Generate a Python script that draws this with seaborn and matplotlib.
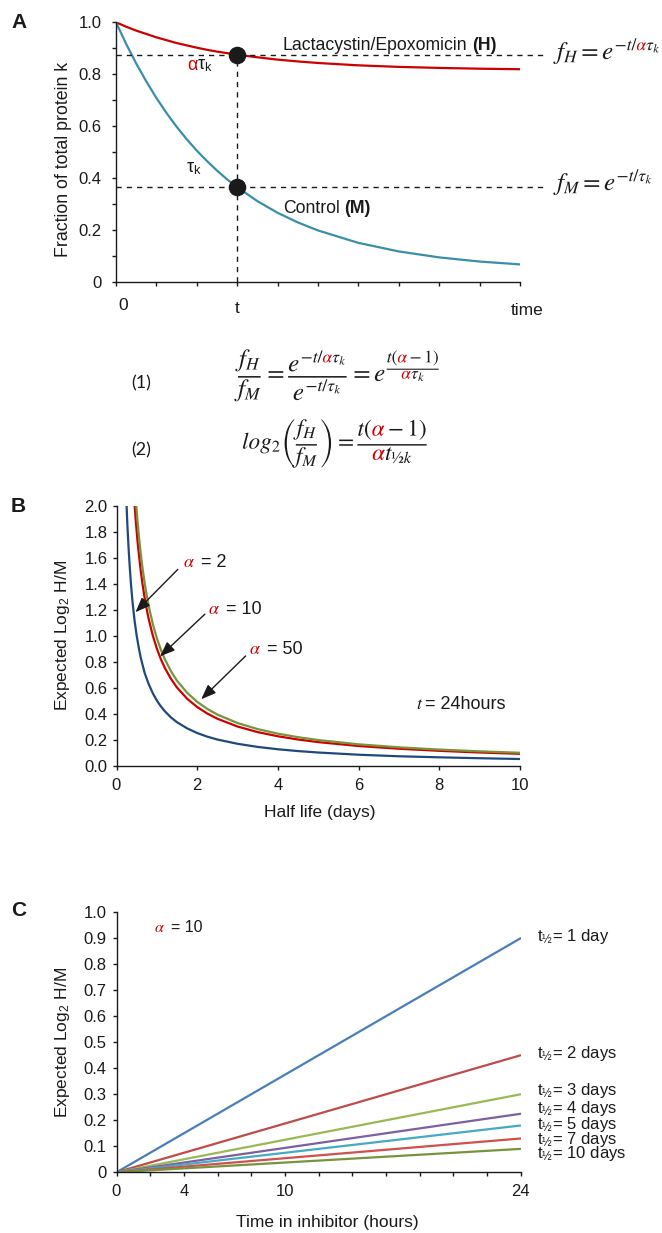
import numpy as np
import matplotlib
matplotlib.use("Agg")
import matplotlib.pyplot as plt
import seaborn as sns
from matplotlib.textpath import text_to_path
from matplotlib.font_manager import FontProperties
from matplotlib.path import Path
from matplotlib.patches import PathPatch
from matplotlib.transforms import Affine2D

# panel A - fraction of protein k left, control (M) vs inhibitor (H); t marked at 3
time_a = [0, 0.25, 0.5, 0.75, 1, 1.25, 1.5, 1.75, 2, 2.25, 2.5, 2.75, 3,
          3.5, 4, 4.5, 5, 6, 7, 8, 9, 10]
frac_h = [1.0, 0.983, 0.968, 0.955, 0.942, 0.931, 0.920, 0.911, 0.902, 0.894, 0.887, 0.881, 0.875,
          0.865, 0.856, 0.849, 0.843, 0.834, 0.828, 0.824, 0.821, 0.819]
frac_m = [1.0, 0.917, 0.841, 0.772, 0.708, 0.650, 0.597, 0.549, 0.505, 0.465, 0.428, 0.394, 0.364,
          0.310, 0.265, 0.228, 0.197, 0.149, 0.116, 0.093, 0.077, 0.066]
t_mark = 3
fh_t = 0.875
fm_t = 0.365

# panel B - expected log2 H/M against half life (days), t = 24 h
hl_a2 = [0.25, 0.27, 0.3, 0.33, 0.36, 0.4, 0.45, 0.5, 0.55, 0.6, 0.7, 0.8, 0.9, 1.0, 1.1, 1.2,
         1.35, 1.5, 1.75, 2, 2.25, 2.5, 3, 3.5, 4, 4.5, 5, 6, 7, 8, 9, 10]
lr_a2 = [2.0, 1.85, 1.67, 1.52, 1.39, 1.25, 1.11, 1.0, 0.91, 0.83, 0.71, 0.625, 0.556, 0.5, 0.455, 0.417,
         0.37, 0.333, 0.286, 0.25, 0.222, 0.2, 0.167, 0.143, 0.125, 0.111, 0.1, 0.083, 0.071, 0.063, 0.056, 0.05]
hl_a10 = [0.45, 0.48, 0.52, 0.56, 0.6, 0.65, 0.7, 0.75, 0.8, 0.9, 1.0, 1.1, 1.2, 1.35, 1.5, 1.75,
          2, 2.25, 2.5, 3, 3.5, 4, 4.5, 5, 6, 7, 8, 9, 10]
lr_a10 = [2.0, 1.875, 1.73, 1.61, 1.5, 1.385, 1.286, 1.2, 1.125, 1.0, 0.9, 0.818, 0.75, 0.667, 0.6, 0.514,
          0.45, 0.4, 0.36, 0.3, 0.257, 0.225, 0.2, 0.18, 0.15, 0.129, 0.113, 0.1, 0.09]
hl_a50 = [0.49, 0.52, 0.56, 0.6, 0.65, 0.7, 0.75, 0.8, 0.9, 1.0, 1.1, 1.2, 1.35, 1.5, 1.75,
          2, 2.25, 2.5, 3, 3.5, 4, 4.5, 5, 6, 7, 8, 9, 10]
lr_a50 = [2.0, 1.885, 1.75, 1.633, 1.508, 1.4, 1.307, 1.225, 1.089, 0.98, 0.891, 0.817, 0.726, 0.653, 0.56,
          0.49, 0.436, 0.392, 0.327, 0.28, 0.245, 0.218, 0.196, 0.163, 0.14, 0.1225, 0.109, 0.098]

# panel C - expected log2 H/M against time in inhibitor, alpha = 10
hours = [0, 24]
half_lives = ["1 day", "2 days", "3 days", "4 days", "5 days", "7 days", "10 days"]
lr_0h = 0
lr_24h = [0.9, 0.45, 0.3, 0.225, 0.18, 0.13, 0.09]

W, H = 662, 1233
RED = "#cc0000"
TEAL = "#3a8eaa"
B_COLORS = ["#1f497d", RED, "#77933c"]
C_COLORS = ["#4a7ebb", "#be4b48", "#98b954", "#7d60a0", "#46aac5", "#d0504d", "#77933c"]

sns.set_theme(style="ticks")
plt.rcParams["font.family"] = ["Liberation Sans", "DejaVu Sans"]
plt.rcParams["mathtext.fontset"] = "stix"
plt.rcParams["text.color"] = "k"
plt.rcParams["axes.linewidth"] = 1.0

fig = plt.figure(figsize=(W / 100, H / 100), dpi=100)
rend = fig.canvas.get_renderer()


def box(left, top, right, bottom):
    return [left / W, 1 - bottom / H, (right - left) / W, (bottom - top) / H]


def put(px, py, s, **kw):
    kw.setdefault("fontsize", 12.5)
    return fig.text(px / W, 1 - py / H, s, **kw)


def run(px, py, parts, size=12.5):
    # pieces of text on one baseline, each one starting where the last ended
    x = px
    for s, col, gap, extra in parts:
        t = put(x + gap, py, s, color=col, fontsize=size, va="baseline", ha="left", **extra)
        x = t.get_window_extent(renderer=rend).x1


def to_px(ax, x, y):
    X, Y = ax.transData.transform((x, y))
    return X, H - Y


def formula(s, px, py, size, anchor="baseline"):
    # mathtext drawn as glyph paths so that alpha can be red
    prop = FontProperties(size=size, math_fontfamily="stix")
    info, gmap, rects = text_to_path.get_glyphs_mathtext(prop, s)
    red_ids = {g[0] for g in text_to_path.get_glyphs_mathtext(prop, r"$\alpha$")[0]}
    groups = {"k": ([], []), RED: ([], [])}
    for gid, ox, oy, sc in info:
        v, c = gmap[gid]
        if len(c) == 0:
            continue
        key = RED if gid in red_ids else "k"
        groups[key][0].append(np.asarray(v, float) * sc + [ox, oy])
        groups[key][1].append(np.asarray(c))
    bars = []
    for v, c in rects:
        v = np.asarray(v, float)
        groups["k"][0].append(v)
        groups["k"][1].append(np.asarray(c))
        bars.append(v[:5, 1].mean())
    y0 = min(bars) if (anchor == "bar" and bars) else 0.0
    k = size / 100 / 72
    tr = Affine2D().translate(0, -y0).scale(k).translate(px / 100, (H - py) / 100) + fig.dpi_scale_trans
    for col, (vs, cs) in groups.items():
        if vs:
            fig.add_artist(PathPatch(Path(np.vstack(vs), np.concatenate(cs)), transform=tr,
                                     facecolor=col, edgecolor="none"))


axA = fig.add_axes(box(116, 22.3, 520, 281.5))
axB = fig.add_axes(box(116.5, 505.7, 520, 765.5))
axC = fig.add_axes(box(116.5, 912.3, 520.5, 1172.3))

for ax in (axA, axB, axC):
    sns.despine(ax=ax)
    ax.spines[["left", "bottom"]].set_color("k")
    ax.tick_params(which="both", direction="out", length=3.2, width=1, color="k",
                   labelsize=12, labelcolor="k")

# ---------------- A ----------------
sns.lineplot(x=time_a, y=frac_h, ax=axA, color=RED, lw=1.6, estimator=None, sort=False)
sns.lineplot(x=time_a, y=frac_m, ax=axA, color=TEAL, lw=1.6, estimator=None, sort=False)
axA.set_xlim(0, 10)
axA.set_ylim(0, 1)
axA.set_xticks(range(11))
axA.set_xticklabels([])
axA.set_yticks([0, 0.2, 0.4, 0.6, 0.8, 1.0])
axA.set_yticklabels(["0", "0.2", "0.4", "0.6", "0.8", "1.0"])
axA.set_yticks([0.1, 0.3, 0.5, 0.7, 0.9], minor=True)
axA.tick_params(axis="y", which="major", pad=7)
axA.set(xlabel="", ylabel="")

dash = (0, (3.8, 3.6))
axA.plot([0, 10.57], [fh_t, fh_t], color="k", lw=1, ls=dash, clip_on=False)
axA.plot([0, 10.57], [fm_t, fm_t], color="k", lw=1, ls=dash, clip_on=False)
axA.plot([t_mark, t_mark], [0, fh_t], color="k", lw=1, ls=dash)
axA.scatter([t_mark, t_mark], [fh_t, fm_t], s=135, color="k", zorder=5, clip_on=False)

put(11, 23, "A", fontsize=15, weight="bold", va="center")
put(63, 159, "Fraction of total protein k", rotation=90, ha="center", va="center", fontsize=12.8)
run(283, 50, [("Lactacystin/Epoxomicin", "k", 0, {}), ("(H)", "k", 4.8, {"weight": "bold"})], size=12.7)
run(283, 213, [("Control", "k", 0, {}), ("(M)", "k", 4.8, {"weight": "bold"})], size=12.7)
run(187, 70, [("α", RED, 0, {}), ("τ$_\\mathregular{k}$", "k", 0, {})], size=13)
run(186, 173, [("τ$_\\mathregular{k}$", "k", 0, {})], size=13)
put(123.5, 310, "0", ha="center", va="baseline")
put(237, 312.7, "t", ha="center", va="baseline")
put(527, 315, "time", ha="center", va="baseline")

formula(r"$f_H = e^{-t/\alpha\tau_k}$", 557, 59, 18)
formula(r"$f_M = e^{-t/\tau_k}$", 557, 190, 18)

put(141, 383, "(1)", family=["Lato", "DejaVu Sans"], ha="center", va="center", fontsize=13)
formula(r"$\dfrac{f_H}{f_M} = \dfrac{e^{-t/\alpha\tau_k}}{e^{-t/\tau_k}} = e^{\dfrac{t(\alpha-1)}{\alpha\tau_k}}$",
        238, 377, 18, anchor="bar")
put(141, 450, "(2)", family=["Lato", "DejaVu Sans"], ha="center", va="center", fontsize=13)
formula(r"$log_2\left(\dfrac{f_H}{f_M}\right) = \dfrac{t(\alpha - 1)}{\alpha t_{½k}}$",
        242, 445, 16.8, anchor="bar")

# ---------------- B ----------------
for xs, ys, col in zip([hl_a2, hl_a10, hl_a50], [lr_a2, lr_a10, lr_a50], B_COLORS):
    sns.lineplot(x=xs, y=ys, ax=axB, color=col, lw=1.6, estimator=None, sort=False)
axB.set_xlim(0, 10)
axB.set_ylim(0, 2)
axB.set_xticks(range(0, 11, 2))
axB.set_yticks(np.round(np.arange(0, 2.01, 0.2), 1))
axB.yaxis.set_major_formatter("{x:.1f}")
axB.tick_params(axis="y", pad=3.2)
axB.tick_params(axis="x", pad=5.5)
axB.set(xlabel="", ylabel="")

arrows = [((1.52, 1.51), (0.47, 1.18)), ((2.19, 1.165), (1.08, 0.84)), ((3.2, 0.843), (2.1, 0.51))]
for tail, head in arrows:
    axB.annotate("", xy=head, xytext=tail,
                 arrowprops=dict(arrowstyle="-|>,head_length=0.9,head_width=0.35", color="k",
                                 lw=1, shrinkA=0, shrinkB=0, mutation_scale=10))
for xl, yl, num in [(1.66, 1.576, "2"), (2.27, 1.216, "10"), (3.29, 0.907, "50")]:
    px, py = to_px(axB, xl, yl)
    run(px, py + 6, [(r"$\alpha$", RED, 0, {}), ("= " + num, "k", 6, {})], size=13)
px, py = to_px(axB, 7.43, 0.483)
run(px, py + 6, [(r"$t$", "k", 0, {}), ("= 24hours", "k", 1, {})], size=13)

put(11, 506, "B", fontsize=15, weight="bold", va="center")
put(62, 635.6, "Expected Log$_\\mathregular{2}$ H/M", rotation=90, ha="center", va="center")
put(320, 812, "Half life (days)", ha="center", va="center")

# ---------------- C ----------------
label_y = [0.89, 0.441, 0.298, 0.227, 0.168, 0.109, 0.055]
for lab, v, col, ly in zip(half_lives, lr_24h, C_COLORS, label_y):
    sns.lineplot(x=hours, y=[lr_0h, v], ax=axC, color=col, lw=1.6, estimator=None, sort=False)
    axC.text(24.97, ly, "t$_\\mathregular{½}$= " + lab, va="baseline", ha="left",
             fontsize=12, clip_on=False)
axC.set_xlim(0, 24)
axC.set_ylim(0, 1)
axC.set_xticks(range(0, 25, 2))
axC.set_xticklabels([str(v) if v in (0, 4, 10, 24) else "" for v in range(0, 25, 2)])
yt = np.round(np.arange(0, 1.01, 0.1), 1)
axC.set_yticks(yt)
axC.set_yticklabels(["0" if v == 0 else f"{v:.1f}" for v in yt])
axC.tick_params(axis="y", pad=4)
axC.tick_params(axis="x", pad=5.5)
axC.set(xlabel="", ylabel="")

run(154, 932, [(r"$\alpha$", RED, 0, {}), ("= 10", "k", 6, {})], size=11.5)
put(11, 910, "C", fontsize=15, weight="bold", va="center")
put(62, 1042, "Expected Log$_\\mathregular{2}$ H/M", rotation=90, ha="center", va="center")
put(327, 1222, "Time in inhibitor (hours)", ha="center", va="center")

fig.savefig("out.png", dpi=100)
